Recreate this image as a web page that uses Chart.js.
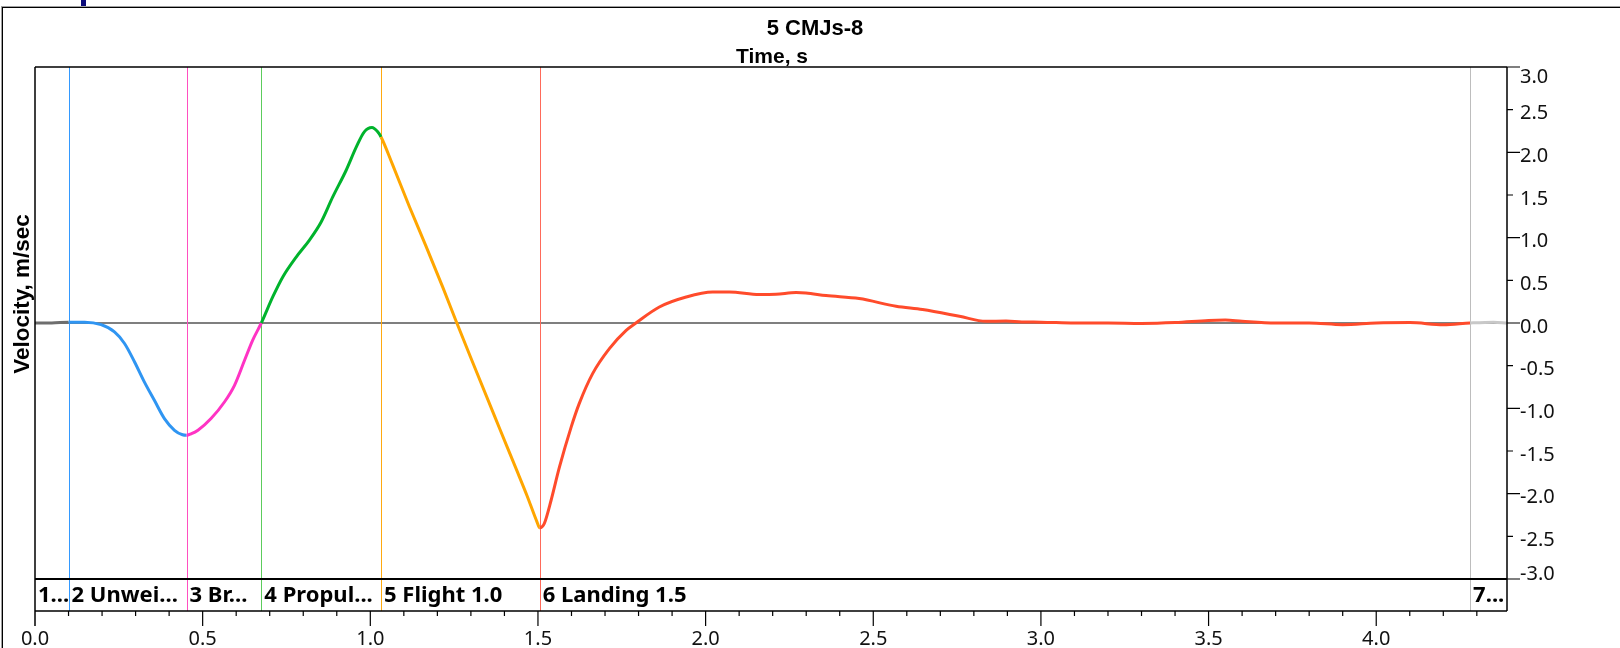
<!DOCTYPE html>
<html>
<head>
<meta charset="utf-8">
<title>5 CMJs-8</title>
<script src="https://cdn.jsdelivr.net/npm/chart.js@4.4.1/dist/chart.umd.min.js"></script>
<style>
  html, body { margin: 0; padding: 0; background: #fff; }
  #wrap { width: 1620px; height: 648px; }
</style>
</head>
<body>
<div id="wrap"><canvas id="velocityChart" width="1620" height="648"></canvas></div>
<script>
// velocity trace: time in s, velocity in m/sec
const timeS = [
  0.000, 0.050, 0.100, 0.148, 0.197, 0.237, 0.267, 0.297, 0.326, 0.356,
  0.386, 0.416, 0.440, 0.452, 0.465, 0.486, 0.525, 0.565, 0.595, 0.625,
  0.649, 0.675, 0.709, 0.739, 0.779, 0.818, 0.853, 0.888, 0.928, 0.958,
  0.982, 1.005, 1.022, 1.032, 1.067, 1.117, 1.166, 1.216, 1.256, 1.300,
  1.385, 1.435, 1.468, 1.497, 1.505, 1.512, 1.519, 1.539, 1.564, 1.599,
  1.623, 1.663, 1.713, 1.763, 1.792, 1.862, 1.942, 2.021, 2.071, 2.160,
  2.210, 2.270, 2.299, 2.359, 2.458, 2.568, 2.647, 2.757, 2.836, 2.896,
  2.943, 3.000, 3.100, 3.200, 3.300, 3.400, 3.500, 3.550, 3.600, 3.700,
  3.800, 3.900, 4.000, 4.100, 4.200, 4.280, 4.350, 4.390
];
const velocity = [
  0.00, 0.00, 0.01, 0.01, -0.02, -0.105, -0.24, -0.457, -0.69, -0.906,
  -1.12, -1.257, -1.31, -1.316, -1.30, -1.257, -1.12, -0.926, -0.73, -0.437,
  -0.203, 0.00, 0.305, 0.54, 0.773, 0.969, 1.18, 1.477, 1.79, 2.06,
  2.24, 2.29, 2.24, 2.18, 1.85, 1.36, 0.90, 0.42, 0.02, -0.41,
  -1.23, -1.71, -2.03, -2.33, -2.40, -2.39, -2.35, -2.08, -1.69, -1.22,
  -0.945, -0.593, -0.30, -0.086, 0.00, 0.188, 0.305, 0.363, 0.363, 0.333,
  0.336, 0.356, 0.352, 0.321, 0.286, 0.196, 0.157, 0.079, 0.02, 0.023,
  0.012, 0.01, 0.00, 0.00, -0.005, 0.005, 0.03, 0.035, 0.02, 0.00,
  0.00, -0.02, 0.00, 0.005, -0.02, 0.00, 0.01, 0.00
];

// phase starts (s) and the labels in the band under the plot
const phaseStart = [0, 0.1, 0.452, 0.675, 1.032, 1.505, 4.28];
const phaseLabels = ["1...", "2 Unwei...", "3 Br...", "4 Propul...", "5 Flight 1.0", "6 Landing 1.5", "7..."];

const xTicks = [0, 0.5, 1, 1.5, 2, 2.5, 3, 3.5, 4];
const yTicks = [-3, -2.5, -2, -1.5, -1, -0.5, 0, 0.5, 1, 1.5, 2, 2.5, 3];

const curveColors = ["#6e6e6e", "#2f95f2", "#ff33c4", "#00b32c", "#ffa600", "#ff4b2b", "#c8c8c8"];
const markerColors = ["#888888", "#3399ff", "#ff4fc0", "#5ccc5c", "#ffaa10", "#ff6a5a", "#bdbdbd"];

function phaseOf(t) {
  let k = 0;
  for (let i = 0; i < phaseStart.length; i++) {
    if (t >= phaseStart[i] - 1e-6) k = i;
  }
  return k;
}

const decor = {
  id: "decor",
  beforeDraw(chart) {
    const c = chart.ctx;
    c.save();
    c.fillStyle = "#fff";
    c.fillRect(0, 0, chart.width, chart.height);
    // outer panel frame, runs off the right and bottom edges
    c.lineWidth = 1;
    c.strokeStyle = "#a0a0a0";
    c.strokeRect(1.5, 6.5, 1700, 700);
    c.strokeStyle = "#000";
    c.strokeRect(2.5, 7.5, 1700, 700);
    c.fillStyle = "#0b0b7a";
    c.fillRect(81, 0, 5, 6);
    c.restore();
  },
  beforeDatasetsDraw(chart) {
    const { ctx: c, chartArea: a, scales: { x, y } } = chart;
    c.save();
    const y0 = y.getPixelForValue(0);
    c.strokeStyle = "#555";
    c.lineWidth = 1.5;
    c.beginPath();
    c.moveTo(a.left, y0);
    c.lineTo(a.right, y0);
    c.stroke();
    c.lineWidth = 1;
    for (let i = 1; i < phaseStart.length; i++) {
      const px = Math.round(x.getPixelForValue(phaseStart[i])) + 0.5;
      c.strokeStyle = markerColors[i];
      c.beginPath();
      c.moveTo(px, a.top);
      c.lineTo(px, a.bottom);
      c.stroke();
    }
    c.restore();
  },
  afterDraw(chart) {
    const { ctx: c, chartArea: a, scales: { x, y } } = chart;
    const bandTop = y.getPixelForValue(-3);
    c.save();
    c.strokeStyle = "#000";

    // plot frame
    c.lineWidth = 1.5;
    c.beginPath();
    c.moveTo(a.left, a.top);
    c.lineTo(a.right, a.top);
    c.moveTo(a.left, a.top);
    c.lineTo(a.left, a.bottom + 15);
    c.moveTo(a.right, a.top);
    c.lineTo(a.right, a.bottom);
    c.moveTo(a.left, a.bottom);
    c.lineTo(a.right, a.bottom);
    c.stroke();
    c.lineWidth = 2;
    c.beginPath();
    c.moveTo(a.left, bandTop);
    c.lineTo(a.right, bandTop);
    c.stroke();

    // right axis ticks, long on whole numbers, labels sit a little low
    c.lineWidth = 1.2;
    c.beginPath();
    yTicks.forEach(v => {
      const py = y.getPixelForValue(v);
      const len = Number.isInteger(v) ? 13 : 6;
      c.moveTo(a.right, py);
      c.lineTo(a.right + len, py);
    });
    c.stroke();
    c.fillStyle = "#111";
    c.font = "20px 'Noto Sans'";
    c.textAlign = "left";
    c.textBaseline = "middle";
    yTicks.forEach((v, i) => {
      let dy = 4;
      if (i === 0) dy = -5;
      if (i === yTicks.length - 1) dy = 10;
      c.fillText(v.toFixed(1), a.right + 13, y.getPixelForValue(v) + dy);
    });

    // bottom axis ticks, every 0.1 s
    c.lineWidth = 1.2;
    c.beginPath();
    for (let i = 1; i <= 43; i++) {
      const px = x.getPixelForValue(i / 10);
      const len = i % 5 === 0 ? 15 : 5;
      c.moveTo(px, a.bottom);
      c.lineTo(px, a.bottom + len);
    }
    c.stroke();

    // phase band labels
    c.font = "bold 22px 'Noto Sans'";
    c.fillStyle = "#000";
    c.textBaseline = "middle";
    c.textAlign = "left";
    for (let i = 0; i < phaseStart.length; i++) {
      const x0 = x.getPixelForValue(phaseStart[i]);
      const x1 = i + 1 < phaseStart.length ? x.getPixelForValue(phaseStart[i + 1]) : a.right;
      c.save();
      c.beginPath();
      c.rect(x0, bandTop, x1 - x0, a.bottom - bandTop);
      c.clip();
      c.fillText(phaseLabels[i], x0 + 3, (bandTop + a.bottom) / 2 + 1);
      c.restore();
    }

    // titles
    c.textAlign = "center";
    c.font = "bold 22px 'Liberation Sans'";
    c.fillText("5 CMJs-8", 815, 29);
    c.font = "bold 21px 'Liberation Sans'";
    c.fillText("Time, s", 772, 57);
    c.translate(23, 294);
    c.rotate(-Math.PI / 2);
    c.font = "bold 22.5px 'Liberation Sans'";
    c.fillText("Velocity, m/sec", 0, 0);
    c.restore();
  }
};

new Chart(document.getElementById("velocityChart"), {
  type: "line",
  data: {
    datasets: [{
      label: "Velocity",
      data: timeS.map((t, i) => ({ x: t, y: velocity[i] })),
      borderWidth: 3,
      pointRadius: 0,
      cubicInterpolationMode: "monotone",
      borderColor: curveColors[5],
      segment: {
        borderColor: ctx => curveColors[phaseOf(ctx.p0.parsed.x)]
      }
    }]
  },
  options: {
    responsive: false,
    animation: false,
    layout: { padding: { left: 35, top: 67, right: 0, bottom: 0 } },
    plugins: { legend: { display: false }, tooltip: { enabled: false } },
    scales: {
      x: {
        type: "linear",
        min: 0,
        max: 4.39,
        afterBuildTicks: s => { s.ticks = xTicks.map(v => ({ value: v })); },
        afterFit: s => { s.height = 37; },
        grid: { display: false, drawTicks: false },
        border: { display: false },
        ticks: {
          padding: 16,
          autoSkip: false,
          maxRotation: 0,
          color: "#111",
          font: { family: "Noto Sans", size: 20 },
          callback: v => Number(v).toFixed(1)
        }
      },
      y: {
        position: "right",
        min: -3.375,
        max: 3,
        afterBuildTicks: s => { s.ticks = yTicks.map(v => ({ value: v })); },
        afterFit: s => { s.width = 113; },
        grid: { display: false, drawTicks: false },
        border: { display: false },
        ticks: { display: false }
      }
    }
  },
  plugins: [decor]
});
</script>
</body>
</html>
